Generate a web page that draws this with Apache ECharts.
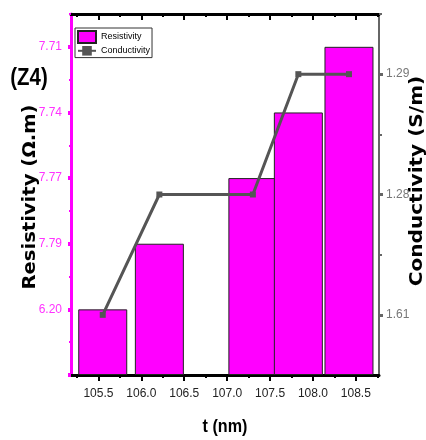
<!DOCTYPE html>
<html>
<head>
<meta charset="utf-8">
<script src="https://cdn.jsdelivr.net/npm/echarts@6/dist/echarts.min.js"></script>
<style>
  html, body { margin: 0; padding: 0; background: #fff; }
  #chart { width: 426px; height: 440px; }
</style>
</head>
<body>
<div id="chart"></div>
<script>
// Film thickness t (nm) of each sample
const thickness = [105.55, 106.21, 107.30, 107.83, 108.42];
// Resistivity (Ω.m) of each sample
const resistivity = ['6.20', '7.79', '7.77', '7.74', '7.71'];
// Conductivity (S/m) of each sample
const conductivity = ['1.61', '1.28', '1.28', '1.29', '1.29'];
// Printed tick labels of the two vertical scales, bottom to top
const resistivityTicks = ['6.20', '7.79', '7.77', '7.74', '7.71'];
const conductivityTicks = ['1.61', '1.28', '1.29'];
// Tick labels of the thickness axis
const thicknessTicks = [105.5, 106.0, 106.5, 107.0, 107.5, 108.0, 108.5];

const SANS = "'Liberation Sans Narrow', 'Arial Narrow', 'Liberation Sans', Arial, sans-serif";
const WIDE_BOLD = "'DejaVu Sans', sans-serif";

// Each printed label sits on its own evenly spaced tick step (1, 2, 3 ...)
const resStep = v => resistivityTicks.indexOf(v) + 1;
const condStep = v => conductivityTicks.indexOf(v) + 1;

const resMajor = resistivityTicks.map((_, i) => i + 1);
const resTickPos = [0].concat(resMajor);
const resMinor = resTickPos.map(v => v + 0.5);
const condMajor = conductivityTicks.map((_, i) => i + 1);
const condMinor = condMajor.map(v => v + 0.5);
const tMinor = thicknessTicks.map(v => v - 0.25).concat([thicknessTicks[thicknessTicks.length - 1] + 0.25]);

const X_MIN = 105.18, X_MAX = 108.77;

const chart = echarts.init(document.getElementById('chart'), null, { renderer: 'canvas' });

const hiddenLabel = { show: false };
const noSplit = { show: false };

chart.setOption({
  animation: false,
  backgroundColor: '#ffffff',
  grid: { left: 71, right: 47, top: 14, bottom: 65, containLabel: false },
  legend: {
    orient: 'vertical',
    left: 75,
    top: 28,
    padding: [2, 2, 2, 2],
    itemGap: 2,
    itemWidth: 18,
    itemHeight: 12,
    borderColor: '#333',
    borderWidth: 1,
    backgroundColor: '#fff',
    textStyle: { fontFamily: SANS, fontSize: 9, color: '#000' },
    data: [{ name: 'Resistivity', icon: 'rect' }, { name: 'Conductivity' }]
  },
  xAxis: [
    {
      type: 'value', min: X_MIN, max: X_MAX, position: 'bottom',
      axisLine: { show: true, onZero: false, lineStyle: { color: '#000', width: 3 } },
      axisTick: { show: true, customValues: thicknessTicks, length: 6, lineStyle: { color: '#000', width: 2 } },
      axisLabel: {
        customValues: thicknessTicks, formatter: v => Number(v).toFixed(1),
        fontFamily: SANS, fontSize: 12, color: '#222', margin: 13
      },
      splitLine: noSplit
    },
    {
      type: 'value', min: X_MIN, max: X_MAX, position: 'bottom',
      axisLine: { show: false, onZero: false },
      axisTick: { show: true, customValues: tMinor, length: 3, lineStyle: { color: '#000', width: 2 } },
      axisLabel: hiddenLabel, splitLine: noSplit
    },
    {
      type: 'value', min: X_MIN, max: X_MAX, position: 'top',
      axisLine: { show: true, onZero: false, lineStyle: { color: '#000', width: 3 } },
      axisTick: { show: true, inside: true, customValues: thicknessTicks, length: 6, lineStyle: { color: '#000', width: 2 } },
      axisLabel: hiddenLabel, splitLine: noSplit
    },
    {
      type: 'value', min: X_MIN, max: X_MAX, position: 'top',
      axisLine: { show: false, onZero: false },
      axisTick: { show: true, inside: true, customValues: tMinor, length: 3, lineStyle: { color: '#000', width: 2 } },
      axisLabel: hiddenLabel, splitLine: noSplit
    }
  ],
  yAxis: [
    {
      type: 'value', min: 0, max: 5.5, position: 'left',
      axisLine: { show: true, onZero: false, lineStyle: { color: '#ff00ff', width: 3 } },
      axisTick: { show: true, customValues: resTickPos, length: 3, lineStyle: { color: '#ff00ff', width: 4 } },
      axisLabel: {
        customValues: resMajor, formatter: v => resistivityTicks[Math.round(v) - 1],
        fontFamily: SANS, fontSize: 12, color: '#ff33ff', margin: 9
      },
      splitLine: noSplit
    },
    {
      type: 'value', min: 0.5, max: 3.5, position: 'right',
      axisLine: { show: true, onZero: false, lineStyle: { color: '#666', width: 2 } },
      axisTick: { show: true, customValues: condMajor, length: 4, lineStyle: { color: '#666', width: 3 } },
      axisLabel: {
        customValues: condMajor, formatter: v => conductivityTicks[Math.round(v) - 1],
        fontFamily: SANS, fontSize: 12, color: '#777', margin: 7
      },
      splitLine: noSplit
    },
    {
      type: 'value', min: 0, max: 5.5, position: 'left',
      axisLine: { show: false, onZero: false },
      axisTick: { show: true, customValues: resMinor, length: 2, lineStyle: { color: '#ff00ff', width: 2 } },
      axisLabel: hiddenLabel, splitLine: noSplit
    },
    {
      type: 'value', min: 0.5, max: 3.5, position: 'right',
      axisLine: { show: false, onZero: false },
      axisTick: { show: true, customValues: condMinor, length: 3, lineStyle: { color: '#666', width: 2 } },
      axisLabel: hiddenLabel, splitLine: noSplit
    }
  ],
  series: [
    {
      name: 'Resistivity',
      type: 'bar',
      xAxisIndex: 0, yAxisIndex: 0,
      barWidth: 49,
      itemStyle: { color: '#ff00ff', borderColor: '#222', borderWidth: 1 },
      data: thickness.map((t, i) => [t, resStep(resistivity[i])]),
      z: 2
    },
    {
      name: 'Conductivity',
      type: 'line',
      xAxisIndex: 0, yAxisIndex: 1,
      symbol: 'rect',
      symbolSize: 6,
      lineStyle: { color: '#555', width: 3 },
      itemStyle: { color: '#555' },
      data: thickness.map((t, i) => [t, condStep(conductivity[i])]),
      z: 3
    }
  ],
  graphic: [
    {
      type: 'text', x: 29, y: 78, scaleX: 0.85,
      style: { text: '(Z4)', font: "bold 24px " + SANS, fill: '#000', align: 'center', verticalAlign: 'middle' }
    },
    {
      type: 'text', x: 31, y: 197, rotation: Math.PI / 2, scaleX: 1.15,
      style: { text: 'Resistivity (Ω.m)', font: "bold 17px " + WIDE_BOLD, fill: '#000', align: 'center', verticalAlign: 'middle' }
    },
    {
      type: 'text', x: 418, y: 181, rotation: Math.PI / 2, scaleX: 1.18,
      style: { text: 'Conductivity (S/m)', font: "bold 17px " + WIDE_BOLD, fill: '#000', align: 'center', verticalAlign: 'middle' }
    },
    {
      type: 'text', x: 225, y: 427, scaleX: 0.85,
      style: { text: 't (nm)', font: "bold 19px " + SANS, fill: '#000', align: 'center', verticalAlign: 'middle' }
    }
  ]
});
</script>
</body>
</html>
